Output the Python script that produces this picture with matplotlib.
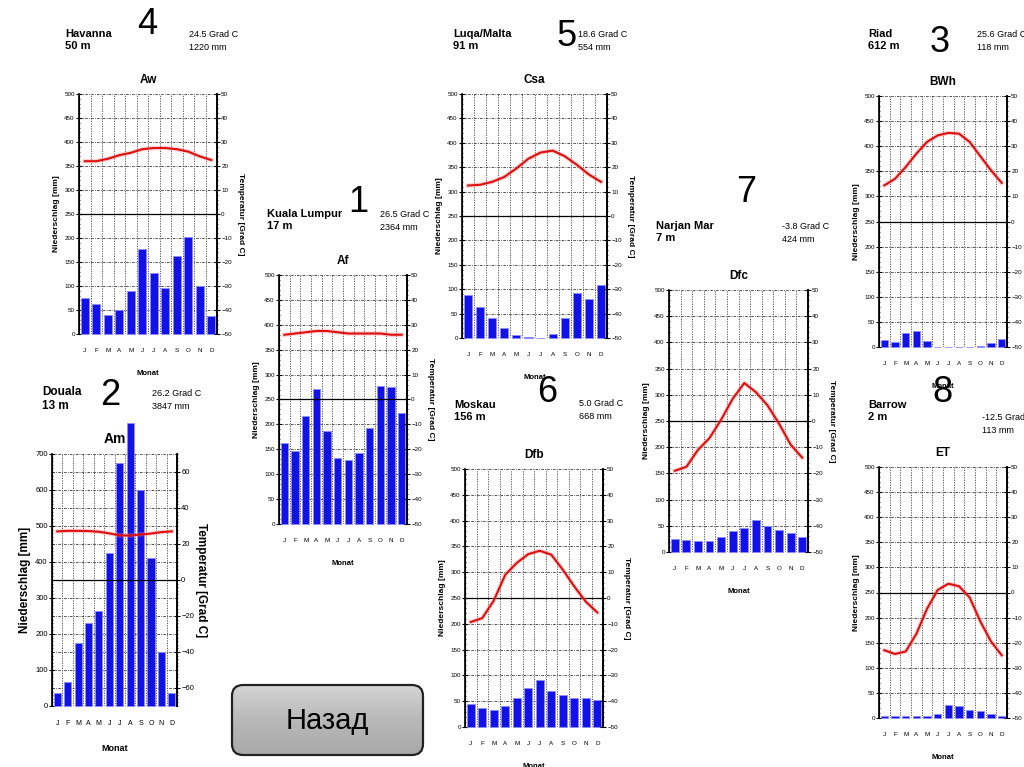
import numpy as np
import matplotlib.pyplot as plt
from matplotlib.patches import FancyBboxPatch
from matplotlib.colors import LinearSegmentedColormap

plt.rcParams['font.family'] = ['Liberation Sans Narrow', 'Liberation Sans', 'DejaVu Sans']

W, H = 1024, 767

months = ['J', 'F', 'M', 'A', 'M', 'J', 'J', 'A', 'S', 'O', 'N', 'D']

# Niederschlag [mm] / Temperatur [Grad C]
havanna_p = [75, 63, 40, 50, 90, 178, 127, 95, 163, 203, 100, 37]
havanna_t = [22, 22, 23, 24.5, 25.5, 27, 27.5, 27.5, 27, 26, 24, 22.5]

kuala_p = [163, 147, 217, 272, 187, 133, 129, 143, 192, 277, 275, 222]
kuala_t = [26, 26.5, 27, 27.5, 27.5, 27, 26.5, 26.5, 26.5, 26.5, 26, 26]

douala_p = [37, 67, 175, 230, 265, 425, 675, 786, 600, 410, 150, 35]
douala_t = [27, 27.3, 27.3, 27.2, 26.8, 25.9, 24.8, 24.7, 25.3, 25.8, 26.6, 27]

malta_p = [88, 63, 40, 21, 7, 3, 0.5, 8, 40, 92, 79, 109]
malta_t = [12.5, 12.8, 14, 16, 19.5, 23.5, 26, 26.8, 24.5, 21, 17, 14]

moskau_p = [44, 36, 32, 40, 56, 75, 91, 70, 62, 56, 56, 52]
moskau_t = [-9.3, -7.8, -1, 9, 13.6, 17, 18.3, 16.8, 11, 4.5, -1.4, -5.6]

narjan_p = [25, 23, 21, 21, 29, 40, 45, 61, 50, 42, 37, 29]
narjan_t = [-19, -17.5, -11, -6.5, 0.5, 8.5, 14.5, 11, 6, -1, -9, -14]

riad_p = [14, 9, 27, 32, 11, 0, 0, 0, 0, 1, 8, 16]
riad_t = [14.4, 17, 21.7, 27, 31.7, 34.3, 35.3, 35, 31.7, 26, 20.4, 15.4]

barrow_p = [4, 4, 3, 4, 4, 8, 25, 23, 15, 13, 7, 4]
barrow_t = [-23, -24.5, -23.5, -16.5, -6.5, 1, 3.5, 2.5, -2, -11.5, -19.5, -25]

stations = ['Havanna', 'Kuala Lumpur', 'Douala', 'Luqa/Malta', 'Moskau', 'Narjan Mar', 'Riad', 'Barrow']
heights = ['50 m', '17 m', '13 m', '91 m', '156 m', '7 m', '612 m', '2 m']
numbers = ['4', '1', '2', '5', '6', '7', '3', '8']
codes = ['Aw', 'Af', 'Am', 'Csa', 'Dfb', 'Dfc', 'BWh', 'ET']
mean_t = ['24.5 Grad C', '26.5 Grad C', '26.2 Grad C', '18.6 Grad C', '5.0 Grad C',
          '-3.8 Grad C', '25.6 Grad C', '-12.5 Grad C']
sum_p = ['1220 mm', '2364 mm', '3847 mm', '554 mm', '668 mm', '424 mm', '118 mm', '113 mm']

precip = [havanna_p, kuala_p, douala_p, malta_p, moskau_p, narjan_p, riad_p, barrow_p]
temps = [havanna_t, kuala_t, douala_t, malta_t, moskau_t, narjan_t, riad_t, barrow_t]

# layout in pixels: axes box (left, top, right, bottom), name xy, number xy, info xy
boxes = [(79, 94, 217, 334), (279, 275, 407, 524), (52, 454, 177, 706), (462, 94, 607, 338),
         (465, 469, 603, 727), (669, 290, 808, 552), (879, 96, 1007, 347), (879, 467, 1007, 718)]
name_xy = [(65, 40), (267, 220), (42, 399), (453, 40), (454, 411), (656, 232), (868, 40), (868, 411)]
num_xy = [(147, 24), (358, 203), (110, 395), (567, 37), (547, 392), (746, 192), (940, 42), (942, 393)]
info_xy = [(189, 41), (380, 221), (152, 400), (578, 41), (579, 410), (782, 233), (977, 41), (982, 424)]
pmaxes = [500, 500, 700, 500, 500, 500, 500, 500]


def fig_rect(x0, y0, x1, y1):
    return [x0 / W, 1 - y1 / H, (x1 - x0) / W, (y1 - y0) / H]


fig = plt.figure(figsize=(10.24, 7.67), dpi=100)
fig.patch.set_facecolor('white')

for i in range(8):
    pmax = pmaxes[i]
    big = pmax > 500
    x = np.arange(1, 13)
    ax = fig.add_axes(fig_rect(*boxes[i]))
    ax.set_xlim(0.5, 12.5)
    ax.set_ylim(0, pmax)

    # grid
    for g in range(50, pmax + 1, 50):
        ax.axhline(g, color='#333333', lw=0.6, ls=(0, (3, 1.5, 1, 1.5)), zorder=1)
    for b in np.arange(1.5, 12.5, 1):
        ax.axvline(b, color='#444444', lw=0.6, ls=(0, (1.5, 1.5)), zorder=1)

    ax.bar(x, precip[i], width=0.68, color='#1212e8', edgecolor='#8c8cff', linewidth=0.6,
           zorder=3, clip_on=False)

    step = 100 if big else 50
    ax.set_yticks(range(0, pmax + 1, step))
    ax.set_yticks(range(0, pmax + 1, 10), minor=True)
    ax.set_xticks(x)
    ax.set_xticklabels(months)
    ax.tick_params(axis='x', length=0, pad=10, labelsize=5 if big else 4.5)
    ax.tick_params(axis='y', which='major', direction='inout', length=4, width=0.8,
                   labelsize=5.5 if big else 4.5, pad=1)
    ax.tick_params(axis='y', which='minor', direction='inout', length=2, width=0.5)
    for s in ['top', 'bottom']:
        ax.spines[s].set_visible(False)
    ax.spines['left'].set_linewidth(1.2)
    ax.spines['right'].set_linewidth(1.2)
    ax.set_xlabel('Monat', fontsize=6.5 if big else 5.5, fontweight='bold', labelpad=12)
    ax.set_ylabel('Niederschlag [mm]', fontsize=8.5 if big else 6, fontweight='bold', labelpad=3)
    ax.set_title(codes[i], fontsize=10 if big else 8.5, fontweight='bold', pad=8)

    ax2 = ax.twinx()
    tmax = pmax / 10
    ax2.set_ylim(-tmax, tmax)
    if big:
        ax2.set_yticks(range(-60, 61, 20))
    else:
        ax2.set_yticks(range(-50, 51, 10))
    ax2.set_yticks(np.arange(-tmax, tmax + 0.1, 2), minor=True)
    ax2.tick_params(axis='y', which='major', direction='inout', length=4, width=0.8,
                    labelsize=5.5 if big else 4.5, pad=1)
    ax2.tick_params(axis='y', which='minor', direction='inout', length=2, width=0.5)
    for s in ['top', 'bottom']:
        ax2.spines[s].set_visible(False)
    ax2.spines['right'].set_linewidth(1.2)
    ax2.set_ylabel('Temperatur [Grad C]', rotation=270, fontsize=8.5 if big else 6,
                   fontweight='bold', labelpad=9)
    ax2.axhline(0, color='black', lw=0.9, zorder=2)
    ax2.plot(x, temps[i], color='#ff8080', lw=3.2, alpha=0.35, zorder=4)
    ax2.plot(x, temps[i], color='#dd1010', lw=1.5, zorder=5)

    nx, ny = name_xy[i]
    fig.text(nx / W, 1 - ny / H, stations[i] + '\n' + heights[i], fontsize=8.5 if big else 8,
             fontweight='bold', va='center', ha='left', linespacing=1.3)
    mx, my = num_xy[i]
    fig.text(mx / W, 1 - my / H, numbers[i], fontsize=26, ha='center', va='center',
             family=['Liberation Sans', 'DejaVu Sans'])
    ix, iy = info_xy[i]
    fig.text(ix / W, 1 - iy / H, mean_t[i] + '\n' + sum_p[i], fontsize=6.5, va='center',
             ha='left', linespacing=1.5)

# button "Назад"
bax = fig.add_axes(fig_rect(230, 683, 425, 757))
bax.set_xlim(0, 195)
bax.set_ylim(0, 74)
bax.axis('off')
cmap = LinearSegmentedColormap.from_list('btn', ['#d6d6d6', '#b8b8b8', '#a8a8a8'])
grad = np.linspace(0, 1, 100).reshape(-1, 1)
img = bax.imshow(grad, extent=[0, 195, 0, 74], cmap=cmap, aspect='auto')
patch = FancyBboxPatch((2, 2), 191, 70, boxstyle='round,pad=0,rounding_size=11',
                       fc='none', ec='#222222', lw=1.6)
bax.add_patch(patch)
img.set_clip_path(patch)
bax.text(97.5, 36, 'Назад', ha='center', va='center', fontsize=21,
         family=['Liberation Sans', 'DejaVu Sans'])

fig.savefig('out.png', dpi=100)
